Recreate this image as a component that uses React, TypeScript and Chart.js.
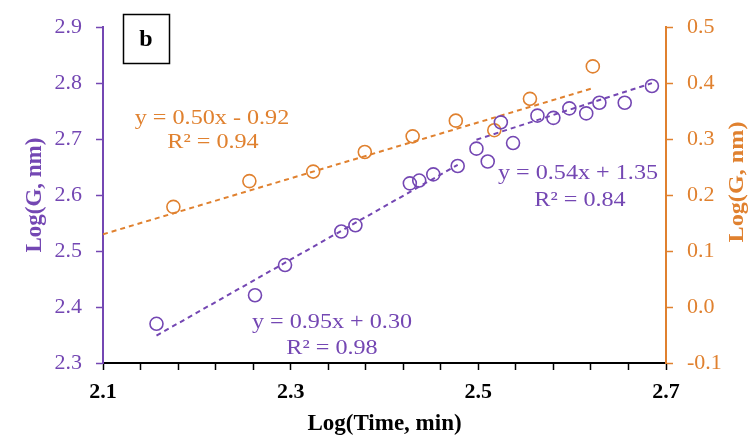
import React, { useEffect, useRef } from "react";
import { Chart, registerables } from "chart.js";

Chart.register(...registerables);

// ---- Data ----
const purpleX = [2.157, 2.262, 2.294, 2.354, 2.369, 2.427, 2.437, 2.452, 2.478, 2.498, 2.510, 2.524, 2.537, 2.563, 2.580, 2.597, 2.615, 2.629, 2.656, 2.685];
const purpleY = [2.370, 2.421, 2.475, 2.535, 2.546, 2.621, 2.626, 2.637, 2.652, 2.683, 2.660, 2.730, 2.693, 2.742, 2.738, 2.755, 2.746, 2.765, 2.765, 2.795];

const orangeX = [2.175, 2.256, 2.324, 2.379, 2.430, 2.476, 2.517, 2.555, 2.622];
const orangeY = [0.179, 0.225, 0.242, 0.277, 0.305, 0.333, 0.316, 0.372, 0.430];

const purpleTrend1X = [2.157, 2.478];
const purpleTrend1Y = [2.349, 2.654];
const purpleTrend2X = [2.498, 2.685];
const purpleTrend2Y = [2.699, 2.800];
const orangeTrendX = [2.1, 2.62];
const orangeTrendY = [0.13, 0.39];

const xTickValues = [2.1, 2.14, 2.18, 2.22, 2.26, 2.3, 2.34, 2.38, 2.42, 2.46, 2.5, 2.54, 2.58, 2.62, 2.66, 2.7];
const xTickLabels = ["2.1", "2.3", "2.5", "2.7"];

const orangeEq = ["y = 0.50x - 0.92", "R² = 0.94"];
const purpleEq2 = ["y = 0.54x + 1.35", "R² = 0.84"];
const purpleEq1 = ["y = 0.95x + 0.30", "R² = 0.98"];
const panelLabel = "b";
const yTitle = "Log(G, nm)";
const xTitle = "Log(Time, min)";

// ---- Styles ----
const PURPLE = "#7447B3";
const ORANGE = "#E0812F";
const SERIF = "'Liberation Serif', 'Times New Roman', serif";

const pts = (xs: number[], ys: number[]) => xs.map((x, i) => ({ x, y: ys[i] }));
const fmt1 = (v: any) => {
  const n = Number(v);
  return (Math.abs(n) < 1e-9 ? 0 : n).toFixed(1);
};

const overlayPlugin = {
  id: "overlay",
  afterDraw(chart: any) {
    const ctx = chart.ctx as CanvasRenderingContext2D;
    const txt = (t: string, cx: number, cy: number, color: string, font: string, sx = 1.15) => {
      ctx.save();
      ctx.font = font;
      ctx.fillStyle = color;
      ctx.textAlign = "center";
      ctx.textBaseline = "middle";
      ctx.translate(cx, cy);
      ctx.scale(sx, 1);
      ctx.fillText(t, 0, 0);
      ctx.restore();
    };
    const f = `21px ${SERIF}`;
    txt(orangeEq[0], 212, 118, ORANGE, f);
    txt(orangeEq[1], 213, 142, ORANGE, f);
    txt(purpleEq2[0], 578, 173, PURPLE, f);
    txt(purpleEq2[1], 580, 200, PURPLE, f);
    txt(purpleEq1[0], 332, 322, PURPLE, f);
    txt(purpleEq1[1], 332, 348, PURPLE, f);

    // panel label box
    ctx.save();
    ctx.strokeStyle = "#000";
    ctx.lineWidth = 1.5;
    ctx.strokeRect(123.5, 14.5, 46, 49);
    ctx.restore();
    txt(panelLabel, 146, 40, "#000", `bold 24px ${SERIF}`, 1);

    // right axis title (reads bottom-to-top)
    ctx.save();
    ctx.font = `bold 22px ${SERIF}`;
    ctx.fillStyle = ORANGE;
    ctx.textAlign = "center";
    ctx.textBaseline = "middle";
    ctx.translate(737, 182);
    ctx.rotate(-Math.PI / 2);
    ctx.scale(1.1, 1);
    ctx.fillText(yTitle, 0, 0);
    ctx.restore();
  },
};

export default function App() {
  const ref = useRef<HTMLCanvasElement>(null);

  useEffect(() => {
    if (!ref.current) return;
    const marker = (color: string) => ({
      showLine: false,
      pointStyle: "circle",
      pointRadius: 6.5,
      pointBorderWidth: 1.6,
      borderColor: color,
      pointBorderColor: color,
      backgroundColor: "rgba(0,0,0,0)",
      pointBackgroundColor: "rgba(0,0,0,0)",
    });
    const trend = (color: string) => ({
      showLine: true,
      pointRadius: 0,
      borderColor: color,
      borderWidth: 2,
      borderDash: [5, 4],
      fill: false,
    });

    const chart = new Chart(ref.current, {
      type: "scatter",
      data: {
        datasets: [
          { data: pts(purpleX, purpleY), yAxisID: "y", ...marker(PURPLE) } as any,
          { data: pts(orangeX, orangeY), yAxisID: "y2", ...marker(ORANGE) } as any,
          { data: pts(purpleTrend1X, purpleTrend1Y), yAxisID: "y", ...trend(PURPLE) } as any,
          { data: pts(purpleTrend2X, purpleTrend2Y), yAxisID: "y", ...trend(PURPLE) } as any,
          { data: pts(orangeTrendX, orangeTrendY), yAxisID: "y2", ...trend(ORANGE) } as any,
        ],
      },
      options: {
        responsive: false,
        animation: false,
        layout: { padding: { top: 20, left: 0, right: 0, bottom: 0 } },
        plugins: { legend: { display: false }, tooltip: { enabled: false } },
        scales: {
          x: {
            type: "linear",
            position: "bottom",
            min: 2.1,
            max: 2.7,
            afterBuildTicks: (scale: any) => {
              scale.ticks = xTickValues.map((v) => ({ value: v }));
            },
            afterFit: (scale: any) => {
              scale.height = 80;
            },
            ticks: {
              autoSkip: false,
              maxRotation: 0,
              padding: 9,
              color: "#000",
              font: { family: SERIF, size: 22, weight: "bold" },
              callback: (v: any) => {
                const s = Number(v).toFixed(2);
                const lbl = Number(v).toFixed(1);
                return xTickLabels.includes(lbl) && Math.abs(Number(s) - Number(lbl)) < 1e-6 ? lbl : "";
              },
            },
            grid: {
              drawOnChartArea: false,
              drawTicks: true,
              tickLength: 7,
              tickWidth: 1.5,
              tickColor: "#000",
            },
            border: { display: true, color: "#000", width: 2 },
            title: {
              display: true,
              text: xTitle,
              color: "#000",
              font: { family: SERIF, size: 23, weight: "bold" },
              padding: { top: 0, bottom: 5 },
            },
          },
          y: {
            type: "linear",
            position: "left",
            min: 2.3,
            max: 2.9,
            afterFit: (scale: any) => {
              scale.width = 103;
            },
            ticks: {
              stepSize: 0.1,
              padding: 14,
              color: PURPLE,
              font: { family: SERIF, size: 22 },
              callback: fmt1,
            },
            grid: {
              drawOnChartArea: false,
              drawTicks: true,
              tickLength: 7,
              tickWidth: 1.5,
              tickColor: PURPLE,
            },
            border: { display: true, color: PURPLE, width: 2 },
            title: {
              display: true,
              text: yTitle,
              color: PURPLE,
              font: { family: SERIF, size: 23, weight: "bold" },
              padding: { top: 21, bottom: 0 },
            },
          },
          y2: {
            type: "linear",
            position: "right",
            min: -0.1,
            max: 0.5,
            afterFit: (scale: any) => {
              scale.width = 86;
            },
            ticks: {
              stepSize: 0.1,
              padding: 14,
              color: ORANGE,
              font: { family: SERIF, size: 22 },
              callback: fmt1,
            },
            grid: {
              drawOnChartArea: false,
              drawTicks: true,
              tickLength: 7,
              tickWidth: 1.5,
              tickColor: ORANGE,
            },
            border: { display: true, color: ORANGE, width: 2 },
            title: { display: false },
          },
        },
      } as any,
      plugins: [overlayPlugin],
    });
    return () => chart.destroy();
  }, []);

  return (
    <div style={{ position: "fixed", left: 0, top: 0, width: 752, height: 443, background: "#fff" }}>
      <canvas ref={ref} width={752} height={443} style={{ display: "block" }} />
    </div>
  );
}
